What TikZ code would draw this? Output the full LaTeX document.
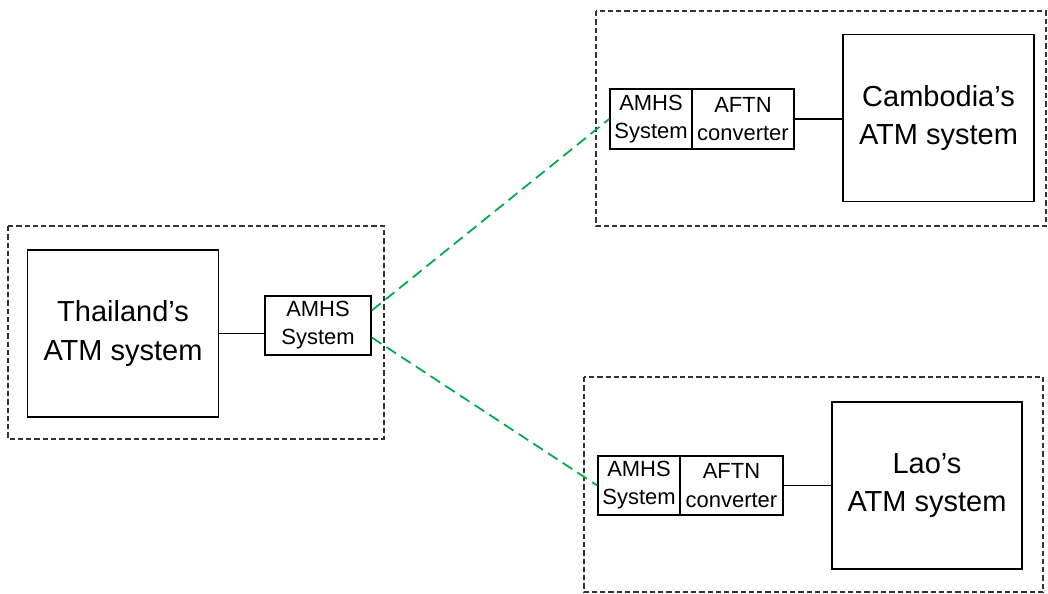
\documentclass[tikz,border=0pt]{standalone}
\usepackage{fontspec}
\setmainfont{Liberation Sans}
\usepackage{tikz}

\definecolor{linkgreen}{RGB}{0,170,75}

\begin{document}
\begin{tikzpicture}[x=0.02cm, y=-0.02cm,
        bigbox/.style={draw, line width=1pt, inner sep=0pt, align=center,
            minimum width=3.82cm, minimum height=3.34cm,
            font=\fontsize{16.5}{22}\selectfont},
        smallbox/.style={draw, line width=0.9pt, inner sep=0pt, align=center,
            minimum height=1.19cm, font=\fontsize{12.5}{16}\selectfont},
        frame/.style={draw=black!80, line width=0.6pt, dash pattern=on 3pt off 1.7pt},
        link/.style={linkgreen, line width=1pt, dash pattern=on 6.5pt off 3.5pt}]
        \useasboundingbox (0,0) rectangle (1048,594);

        % Dashed frames
        \draw[frame] (8,226) rectangle (384,439);
        \draw[frame] (596,11) rectangle (1046,226);
        \draw[frame] (584,377) rectangle (1043,592);

        % Nodes (Thailand)
        \node[bigbox] (ATMT) at (123,333.5) {Thailand’s\\ATM system};
        \node[smallbox, minimum width=2.12cm] (AMHST) at (318,325.5) {AMHS\\System};

        % Nodes (Cambodia)
        \node[smallbox, minimum width=1.64cm] (AMHSC) at (651,119) {AMHS\\System};
        \node[smallbox, minimum width=2.04cm] (AFTNC) at (743,119) {AFTN\\converter};
        \node[bigbox] (ATMC) at (938.5,118) {Cambodia’s\\ATM system};

        % Nodes (Lao)
        \node[smallbox, minimum width=1.64cm] (AMHSL) at (639,485.5) {AMHS\\System};
        \node[smallbox, minimum width=2.06cm] (AFTNL) at (731.5,485.5) {AFTN\\converter};
        \node[bigbox, minimum width=3.8cm] (ATML) at (927,485.5) {Lao’s\\ATM system};

        % Connecting Lines
        \draw[line width=0.9pt] (ATMT.east) -- (ATMT.east -| AMHST.west);
        \draw[line width=0.9pt] (AFTNC.east) -- (AFTNC.east -| ATMC.west);
        \draw[line width=0.9pt] (AFTNL.east) -- (ATML.west);

        % Links between countries
        \draw[link] ([yshift=0.3cm]AMHST.east) -- (AMHSC.west);
        \draw[link] ([yshift=-0.24cm]AMHST.east) -- (AMHSL.west);

    \end{tikzpicture}
\end{document}
